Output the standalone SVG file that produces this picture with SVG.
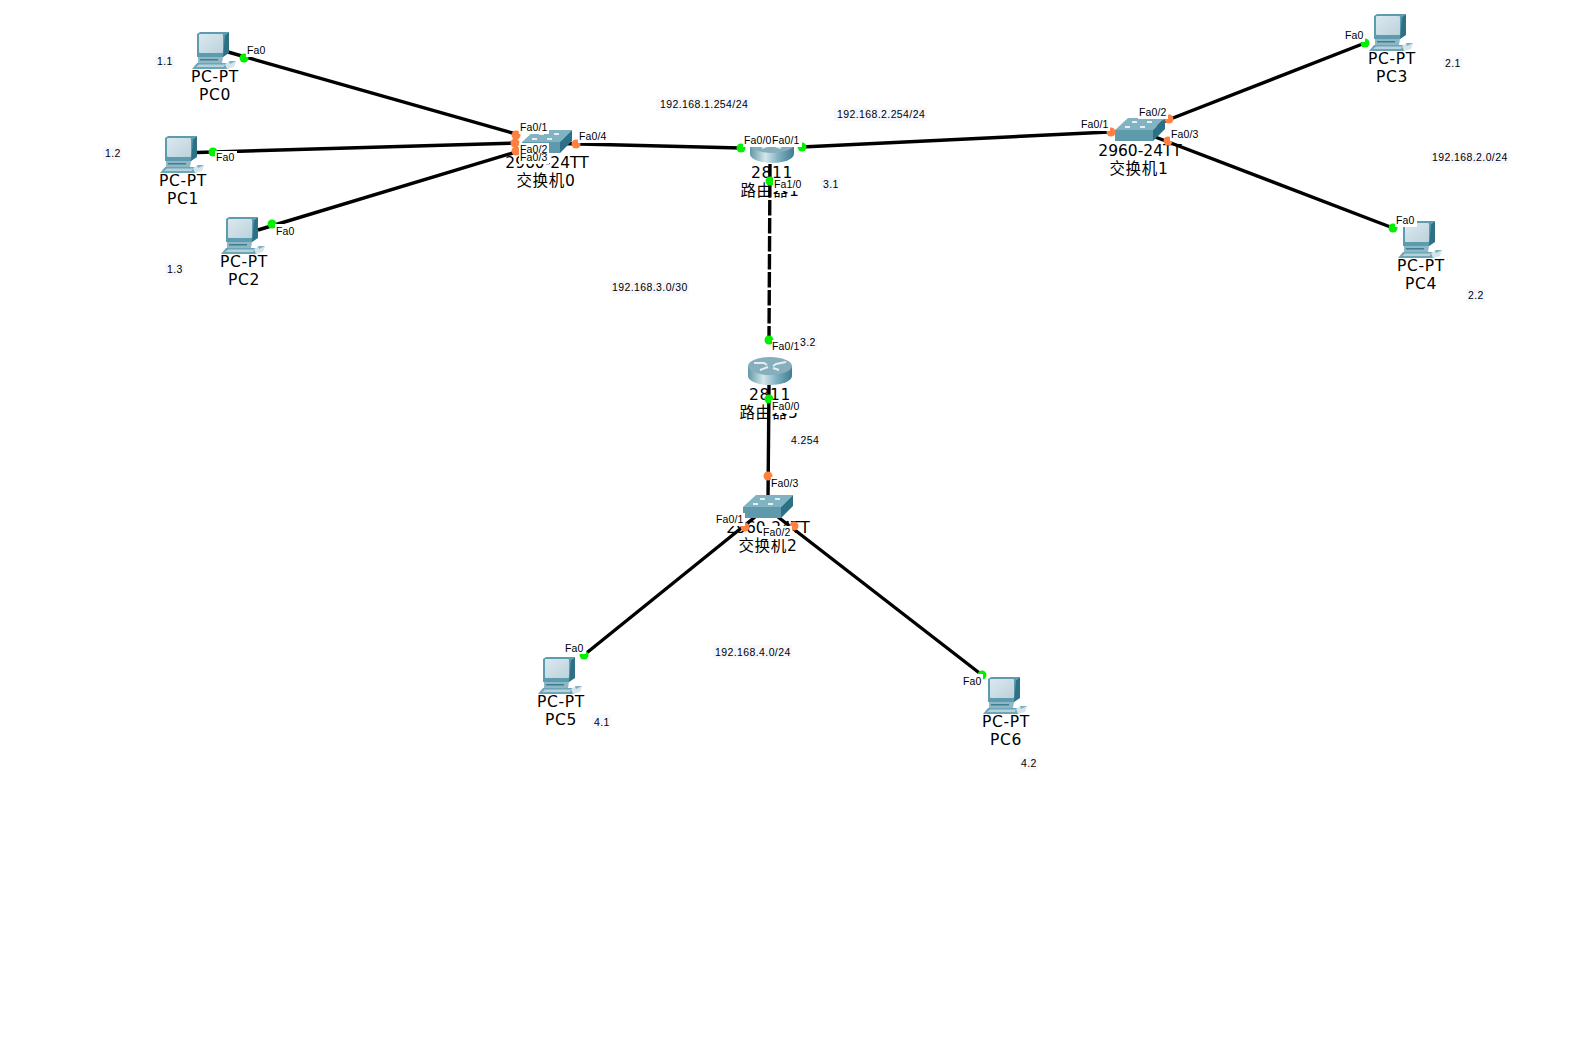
<svg xmlns="http://www.w3.org/2000/svg" xmlns:xlink="http://www.w3.org/1999/xlink" width="1572" height="1044" viewBox="0 0 1572 1044">
<style>
.lnk{fill:none;stroke:#000;stroke-width:3.400}
.dash{stroke-dasharray:15.500 2.500}
.g{fill:#00f000}.o{fill:#ff8040}
.dev{font:15.500px "DejaVu Sans","Noto Sans CJK SC",sans-serif;text-anchor:middle;fill:#000}
.wide{letter-spacing:.7px}
.port{font:10.500px "Liberation Sans",sans-serif;fill:#000;letter-spacing:.1px}
.pb{fill:#fff}
.ip{font:10.500px "Liberation Sans",sans-serif;fill:#000;letter-spacing:.4px}
.ib{fill:#f6f8fd}
</style>
<defs>
<linearGradient id="scr" x1="0" y1="0" x2="1" y2="1"><stop offset="0" stop-color="#dbe8ee"/><stop offset="1" stop-color="#bcd2dc"/></linearGradient>
<linearGradient id="rt" x1="0" y1="0" x2="1" y2="0"><stop offset="0" stop-color="#5f98a8"/><stop offset=".35" stop-color="#d4e6ea"/><stop offset=".65" stop-color="#7fb0bf"/><stop offset="1" stop-color="#3f7d90"/></linearGradient>
<g id="pc">
<path d="M5 3 8 1H37L33 4V24L31 26H5Z" fill="#5d9bae"/>
<path d="M33 4 37 1V22L31 26Z" fill="#2d7186"/>
<rect x="7" y="3" width="24" height="19" rx="1" fill="url(#scr)"/>
<path d="M6 26H31L30 32H6Z" fill="#8fb8c6"/>
<rect x="8" y="28" width="18" height="1.500" fill="#3f7d90"/>
<path d="M0 38 5 32H37L36 38Z" fill="#6ea5b6"/>
<path d="M4 36H32L33 33.500H7Z" fill="#b6d2dc"/>
<path d="M33 33 38 30H44L42 36 35 38Z" fill="#d4e4ea"/>
<path d="M37 30 44 30 38 33Z" fill="#7fb0c0"/>
</g>
<g id="sw">
<path d="M0 12 13 0H50L38 12Z" fill="#82b3c2"/>
<path d="M38 12 50 0V11L38 23Z" fill="#2d7186"/>
<rect x="0" y="12" width="38" height="11" fill="#5f9aac"/>
<g fill="#e6f0f4"><rect x="10" y="8" width="5" height="2"/><rect x="25" y="8" width="5" height="2"/><rect x="17" y="3" width="5" height="2"/><rect x="32" y="3" width="5" height="2"/></g>
</g>
<g id="rtr">
<path d="M0 9V19C0 24 10 28 22 28S44 24 44 19V9Z" fill="url(#rt)"/>
<ellipse cx="22" cy="9" rx="22" ry="9" fill="#86aebc"/>
<g stroke="#e4eef2" stroke-width="2" fill="none"><path d="M6 6H16L19 8M12 13 20 10M38 5 28 7 25 9M31 13 25 11"/></g>
</g>
</defs>
<rect width="1572" height="1044" fill="#fff"/>
<g id="connectors">
<path class="lnk" d="M228 52 516 134"/>
<path class="lnk" d="M197 152.500 516 143"/>
<path class="lnk" d="M258 230 516 152"/>
<path class="lnk" d="M540 143 741 148"/>
<path class="lnk" d="M802 147 1130 131"/>
<path class="lnk" d="M1155 125 1365 43"/>
<path class="lnk" d="M1150 135 1393 228"/>
<path class="lnk dash" d="M770 164 769 340"/>
<path class="lnk" d="M769 385 768 500"/>
<path class="lnk" d="M755 517 584 655"/>
<path class="lnk" d="M778 517 982 675"/>
</g>
<g id="PC0"><use xlink:href="#pc" x="192" y="31"/><text class="dev wide" x="215" y="82">PC-PT</text><text class="dev wide" x="215" y="100">PC0</text></g>
<g id="PC1"><use xlink:href="#pc" x="160" y="135"/><text class="dev wide" x="183" y="186">PC-PT</text><text class="dev wide" x="183" y="204">PC1</text></g>
<g id="PC2"><use xlink:href="#pc" x="221" y="216"/><text class="dev wide" x="244" y="267">PC-PT</text><text class="dev wide" x="244" y="285">PC2</text></g>
<g id="PC3"><use xlink:href="#pc" x="1369" y="13"/><text class="dev wide" x="1392" y="64">PC-PT</text><text class="dev wide" x="1392" y="82">PC3</text></g>
<g id="PC4"><use xlink:href="#pc" x="1398" y="220"/><text class="dev wide" x="1421" y="271">PC-PT</text><text class="dev wide" x="1421" y="289">PC4</text></g>
<g id="PC5"><use xlink:href="#pc" x="538" y="656"/><text class="dev wide" x="561" y="707">PC-PT</text><text class="dev wide" x="561" y="725">PC5</text></g>
<g id="PC6"><use xlink:href="#pc" x="983" y="676"/><text class="dev wide" x="1006" y="727">PC-PT</text><text class="dev wide" x="1006" y="745">PC6</text></g>
<g id="switch0"><use xlink:href="#sw" x="522" y="130"/><text class="dev" x="547" y="168">2960-24TT</text><text class="dev wide" x="546" y="186">交换机0</text></g>
<g id="switch1"><use xlink:href="#sw" x="1115" y="118"/><text class="dev" x="1140" y="156">2960-24TT</text><text class="dev wide" x="1139" y="174">交换机1</text></g>
<g id="switch2"><use xlink:href="#sw" x="743" y="495"/><text class="dev" x="768" y="533">2960-24TT</text><text class="dev wide" x="768" y="551">交换机2</text></g>
<g id="router1"><use xlink:href="#rtr" x="750" y="135"/><text class="dev wide" x="772" y="178">2811</text><text class="dev wide" x="770" y="196">路由器1</text></g>
<g id="router5"><use xlink:href="#rtr" x="748" y="357"/><text class="dev wide" x="770" y="400">2811</text><text class="dev wide" x="769" y="418">路由器5</text></g>
<g id="ports">
<g>
<circle class="g" cx="244" cy="58" r="4.500"/><circle class="g" cx="213" cy="152" r="4.500"/><circle class="g" cx="272" cy="224" r="4.500"/>
<circle class="g" cx="1365" cy="43" r="4.500"/><circle class="g" cx="1393" cy="228" r="4.500"/><circle class="g" cx="584" cy="655" r="4.500"/><circle class="g" cx="982" cy="675" r="4.500"/>
<circle class="g" cx="741" cy="148" r="4.500"/><circle class="g" cx="802" cy="147" r="4.500"/><circle class="g" cx="770" cy="181" r="4.500"/><circle class="g" cx="769" cy="340" r="4.500"/><circle class="g" cx="769" cy="399" r="4.500"/>
<circle class="o" cx="516" cy="135" r="4.500"/><circle class="o" cx="515" cy="143" r="4.500"/><circle class="o" cx="516" cy="151" r="4.500"/><circle class="o" cx="576" cy="144" r="4.500"/>
<circle class="o" cx="1111" cy="132" r="4.500"/><circle class="o" cx="1169" cy="119" r="4.500"/><circle class="o" cx="1168" cy="141" r="4.500"/>
<circle class="o" cx="768" cy="476" r="4.500"/><circle class="o" cx="745" cy="527" r="4.500"/><circle class="o" cx="794" cy="526" r="4.500"/>
</g>
<g class="pb">
<rect x="246" y="44" width="22" height="13"/><rect x="215" y="151" width="22" height="13"/><rect x="275" y="224" width="22" height="13"/>
<rect x="1343" y="29" width="22" height="13"/><rect x="1395" y="214" width="22" height="13"/><rect x="564" y="641" width="22" height="13"/><rect x="961" y="674" width="22" height="13"/>
<rect x="519" y="121" width="30" height="13"/><rect x="519" y="143" width="30" height="13"/><rect x="519" y="151" width="30" height="13"/><rect x="578" y="130" width="30" height="13"/>
<rect x="743" y="134" width="30" height="13"/><rect x="772" y="134" width="30" height="13"/><rect x="773" y="178" width="30" height="13"/>
<rect x="772" y="340" width="30" height="13"/><rect x="771" y="400" width="30" height="13"/>
<rect x="771" y="477" width="30" height="13"/><rect x="715" y="513" width="30" height="13"/><rect x="762" y="526" width="30" height="13"/>
<rect x="1080" y="118" width="30" height="13"/><rect x="1138" y="106" width="30" height="13"/><rect x="1170" y="128" width="30" height="13"/>
</g>
<text class="port" x="247" y="54">Fa0</text><text class="port" x="216" y="161">Fa0</text><text class="port" x="276" y="235">Fa0</text>
<text class="port" x="1345" y="39">Fa0</text><text class="port" x="1396" y="224">Fa0</text><text class="port" x="565" y="652">Fa0</text><text class="port" x="963" y="685">Fa0</text>
<text class="port" x="520" y="131">Fa0/1</text><text class="port" x="520" y="153">Fa0/2</text><text class="port" x="520" y="161">Fa0/3</text><text class="port" x="579" y="140">Fa0/4</text>
<text class="port" x="744" y="144">Fa0/0</text><text class="port" x="772" y="144">Fa0/1</text><text class="port" x="774" y="188">Fa1/0</text>
<text class="port" x="772" y="350">Fa0/1</text><text class="port" x="772" y="410">Fa0/0</text>
<text class="port" x="771" y="487">Fa0/3</text><text class="port" x="716" y="523">Fa0/1</text><text class="port" x="763" y="536">Fa0/2</text>
<text class="port" x="1081" y="128">Fa0/1</text><text class="port" x="1139" y="116">Fa0/2</text><text class="port" x="1171" y="138">Fa0/3</text>
</g>
<g id="notes">
<g class="ib">
<rect x="155" y="55" width="19" height="13"/><rect x="103" y="147" width="19" height="13"/><rect x="165" y="263" width="19" height="13"/>
<rect x="1443" y="57" width="19" height="13"/><rect x="1466" y="289" width="19" height="13"/><rect x="821" y="178" width="19" height="13"/>
<rect x="798" y="336" width="19" height="13"/><rect x="789" y="433" width="32" height="13"/><rect x="592" y="715" width="19" height="13"/><rect x="1019" y="757" width="19" height="13"/>
<rect x="657" y="98" width="93" height="13"/><rect x="834" y="108" width="93" height="13"/><rect x="610" y="281" width="79" height="13"/><rect x="1430" y="151" width="79" height="13"/><rect x="713" y="645" width="79" height="13"/>
</g>
<text class="ip" x="157" y="65">1.1</text>
<text class="ip" x="105" y="157">1.2</text>
<text class="ip" x="167" y="273">1.3</text>
<text class="ip" x="1445" y="67">2.1</text>
<text class="ip" x="1468" y="299">2.2</text>
<text class="ip" x="823" y="188">3.1</text>
<text class="ip" x="800" y="346">3.2</text>
<text class="ip" x="791" y="444">4.254</text>
<text class="ip" x="594" y="726">4.1</text>
<text class="ip" x="1021" y="767">4.2</text>
<text class="ip" x="660" y="108">192.168.1.254/24</text>
<text class="ip" x="837" y="118">192.168.2.254/24</text>
<text class="ip" x="612" y="291">192.168.3.0/30</text>
<text class="ip" x="1432" y="161">192.168.2.0/24</text>
<text class="ip" x="715" y="656">192.168.4.0/24</text>
</g>
</svg>
